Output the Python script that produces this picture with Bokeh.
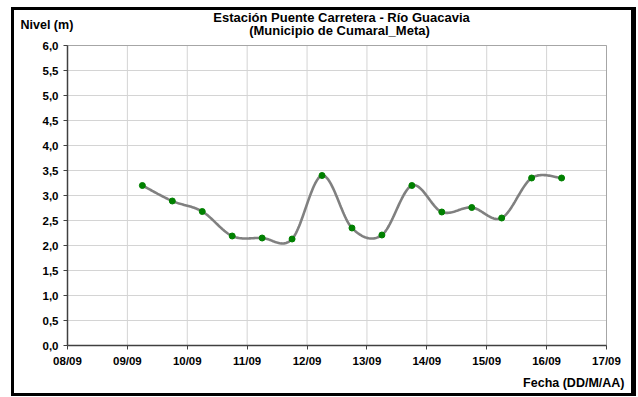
import numpy as np
import pandas as pd
from bokeh.plotting import figure
from bokeh.models import (Label, FixedTicker, DatetimeTickFormatter,
                          CustomJSTickFormatter, Range1d)
from bokeh.embed import file_html
from bokeh.resources import INLINE

# ---- data ----
times = ["2011-09-09 06:00", "2011-09-09 18:00", "2011-09-10 06:00", "2011-09-10 18:00",
         "2011-09-11 06:00", "2011-09-11 18:00", "2011-09-12 06:00", "2011-09-12 18:00",
         "2011-09-13 06:00", "2011-09-13 18:00", "2011-09-14 06:00", "2011-09-14 18:00",
         "2011-09-15 06:00", "2011-09-15 18:00", "2011-09-16 06:00"]
nivel = [3.20, 2.89, 2.68, 2.19, 2.15, 2.13, 3.40, 2.35, 2.21, 3.20, 2.67, 2.76, 2.55, 3.35, 3.35]
tick_days = ["2011-09-08", "2011-09-09", "2011-09-10", "2011-09-11", "2011-09-12",
             "2011-09-13", "2011-09-14", "2011-09-15", "2011-09-16", "2011-09-17"]
y_ticks = [0.0, 0.5, 1.0, 1.5, 2.0, 2.5, 3.0, 3.5, 4.0, 4.5, 5.0, 5.5, 6.0]

title1 = "Estación Puente Carretera - Río Guacavia"
title2 = "(Municipio de Cumaral_Meta)"
ylabel = "Nivel (m)"
xlabel = "Fecha (DD/M/AA)"

FONT = "Liberation Sans"

x_ms = pd.to_datetime(times).astype("int64").to_numpy() / 1e6
y = np.array(nivel)
ticks_ms = list(pd.to_datetime(tick_days).astype("int64").to_numpy() / 1e6)

# smooth (Excel-like Bezier) curve through the points
def smooth(xs, ys, n=30):
    P = np.column_stack([xs, ys])
    Pp = np.vstack([P[0], P, P[-1]])
    out = []
    for i in range(len(P) - 1):
        p0, p1, p2, p3 = Pp[i], Pp[i + 1], Pp[i + 2], Pp[i + 3]
        c1 = p1 + (p2 - p0) / 6.0
        c2 = p2 - (p3 - p1) / 6.0
        t = np.linspace(0, 1, n, endpoint=(i == len(P) - 2))[:, None]
        b = ((1 - t) ** 3) * p1 + 3 * ((1 - t) ** 2) * t * c1 + 3 * (1 - t) * t ** 2 * c2 + t ** 3 * p2
        out.append(b)
    out = np.vstack(out)
    return out[:, 0], out[:, 1]

sx, sy = smooth(x_ms, y)

# ---- layout: canvas = whole chart area, plot area placed inside it ----
CW, CH = 617, 383                 # canvas size
PL, PR, PT, PB = 53, 25, 35, 48   # margins around the plot area
PW, PH = CW - PL - PR, CH - PT - PB
xmin, xmax = ticks_ms[0], ticks_ms[-1]
ymin, ymax = y_ticks[0], y_ticks[-1]
xspan, yspan = xmax - xmin, ymax - ymin
x_range = Range1d(xmin - PL / PW * xspan, xmax + PR / PW * xspan)
y_range = Range1d(ymin - PB / PH * yspan, ymax + PT / PH * yspan)

p = figure(frame_width=CW, frame_height=CH, output_backend="svg", toolbar_location=None,
           x_axis_type="datetime", x_range=x_range, y_range=y_range,
           min_border=0, min_border_left=0, min_border_right=0,
           min_border_top=0, min_border_bottom=0)
p.title.visible = False
p.styles = {"margin-left": "11px", "margin-top": "7px",
            "border-left": "3px solid black", "border-top": "3px solid black",
            "border-right": "5px solid black", "border-bottom": "3px solid black"}
p.background_fill_color = "white"
p.border_fill_color = "white"
p.outline_line_color = None
p.grid.visible = False

# grid lines at the tick values
p.segment(x0=ticks_ms, y0=[ymin] * len(ticks_ms), x1=ticks_ms, y1=[ymax] * len(ticks_ms),
          line_color="#d4d4d4", line_width=1, level="underlay")
p.segment(x0=[xmin] * len(y_ticks), y0=y_ticks, x1=[xmax] * len(y_ticks), y1=y_ticks,
          line_color="#d4d4d4", line_width=1, level="underlay")
# plot-area outline
p.quad(left=[xmin], right=[xmax], bottom=[ymin], top=[ymax], fill_color=None,
       line_color="#a6a6a6", line_width=1, level="underlay")

p.line(sx, sy, line_color="#808080", line_width=2.6)
p.scatter(x_ms, y, size=6, fill_color="#008000", line_color="#008000")

xa, ya = p.xaxis[0], p.yaxis[0]
xa.fixed_location = ymin
ya.fixed_location = xmin
xa.bounds = (xmin, xmax)
ya.bounds = (ymin, ymax)
xa.ticker = FixedTicker(ticks=ticks_ms)
xa.formatter = DatetimeTickFormatter(days="%d/%m", months="%d/%m", hours="%d/%m")
ya.ticker = FixedTicker(ticks=y_ticks)
ya.formatter = CustomJSTickFormatter(code="return tick.toFixed(1).replace('.', ',');")

for ax in (xa, ya):
    ax.axis_line_color = "#404040"
    ax.axis_line_width = 1.5
    ax.major_tick_line_color = "#404040"
    ax.major_tick_in = 0
    ax.major_tick_out = 4
    ax.minor_tick_line_color = None
    ax.major_label_text_font = FONT
    ax.major_label_text_font_style = "bold"
    ax.major_label_text_font_size = "11.5px"
    ax.major_label_text_color = "black"
xa.major_label_standoff = 5
ya.major_label_standoff = 5

# texts (screen units: from canvas left, and upward from canvas bottom)
def lab(text, x, y, align="left", size="12.5px"):
    p.add_layout(Label(x=x, y=y, x_units="screen", y_units="screen", text=text,
                       text_font=FONT, text_font_style="bold", text_font_size=size,
                       text_align=align, text_baseline="middle", text_color="black"))

lab(title1, 327, 376, "center", "13px")
lab(title2, 325, 363, "center", "13px")
lab(ylabel, 6, 369)
lab(xlabel, 610, 11, "right")

open("out.html", "w").write(file_html(p, INLINE))
